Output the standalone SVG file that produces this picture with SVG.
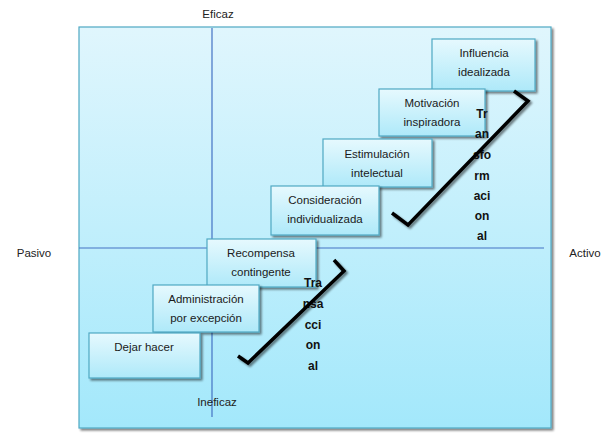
<svg xmlns="http://www.w3.org/2000/svg" width="615" height="448" viewBox="0 0 615 448">
<defs>
<linearGradient id="bg" x1="0" y1="0" x2="0" y2="1">
<stop offset="0" stop-color="#e0f6fd"/>
<stop offset="1" stop-color="#a3e8fb"/>
</linearGradient>
<linearGradient id="bx" x1="0" y1="0" x2="0" y2="1">
<stop offset="0" stop-color="#e6f9fe"/>
<stop offset="1" stop-color="#aee9f9"/>
</linearGradient>
<filter id="sh" x="-10%" y="-10%" width="130%" height="130%">
<feGaussianBlur in="SourceAlpha" stdDeviation="0.8"/>
<feOffset dx="1.5" dy="2" result="o"/>
<feComponentTransfer><feFuncA type="linear" slope="0.5"/></feComponentTransfer>
<feMerge><feMergeNode/><feMergeNode in="SourceGraphic"/></feMerge>
</filter>
</defs>
<style>
.lbl{font-family:"Liberation Sans",Arial,sans-serif;font-size:11.5px;fill:#222;text-anchor:middle}
.box{fill:url(#bx);stroke:#4fa9c4;stroke-width:1.2}
.bt{font-family:"Liberation Sans",Arial,sans-serif;font-size:11.5px;fill:#1a1a1a;text-anchor:middle}
.vt{font-family:"Liberation Sans",Arial,sans-serif;font-size:12px;font-weight:bold;fill:#111;text-anchor:middle}
.axis{stroke:#4472c4;stroke-width:1.2}
.chk{fill:none;stroke:#000;stroke-width:3.5;stroke-linejoin:miter;stroke-linecap:butt}
</style>
<g id="frame">
<rect x="79" y="27" width="472" height="401" fill="url(#bg)" stroke="#4fa9c4" stroke-width="1.2" filter="url(#sh)"/>
</g>
<g id="axes">
<line class="axis" x1="79" y1="248" x2="544" y2="248"/>
<line class="axis" x1="212" y1="28" x2="212" y2="417"/>
</g>
<g id="labels">
<text class="lbl" x="218" y="18">Eficaz</text>
<text class="lbl" x="217" y="406">Ineficaz</text>
<text class="lbl" x="34" y="257">Pasivo</text>
<text class="lbl" x="585" y="257">Activo</text>
</g>
<g id="n-influencia">
<rect class="box" x="432" y="39" width="103" height="52" filter="url(#sh)"/>
<text class="bt" x="484" y="57">Influencia</text>
<text class="bt" x="484" y="76">idealizada</text>
</g>
<g id="n-motivacion">
<rect class="box" x="379" y="89" width="106" height="47" filter="url(#sh)"/>
<text class="bt" x="432" y="107">Motivación</text>
<text class="bt" x="432" y="126">inspiradora</text>
</g>
<g id="n-estimulacion">
<rect class="box" x="323" y="139" width="109" height="48" filter="url(#sh)"/>
<text class="bt" x="377" y="158">Estimulación</text>
<text class="bt" x="377" y="177">intelectual</text>
</g>
<g id="n-consideracion">
<rect class="box" x="271" y="186" width="108" height="49" filter="url(#sh)"/>
<text class="bt" x="325" y="204">Consideración</text>
<text class="bt" x="325" y="223">individualizada</text>
</g>
<g id="n-recompensa">
<rect class="box" x="207" y="239" width="109" height="48" filter="url(#sh)"/>
<text class="bt" x="261" y="257">Recompensa</text>
<text class="bt" x="261" y="276">contingente</text>
</g>
<g id="n-administracion">
<rect class="box" x="153" y="285" width="106" height="47" filter="url(#sh)"/>
<text class="bt" x="206" y="303">Administración</text>
<text class="bt" x="206" y="322">por excepción</text>
</g>
<g id="n-dejar">
<rect class="box" x="89" y="333" width="111" height="45" filter="url(#sh)"/>
<text class="bt" x="144" y="351">Dejar hacer</text>
</g>
<g id="n-transformacional">
<text class="vt" x="482" y="118">Tr</text>
<text class="vt" x="482" y="138">an</text>
<text class="vt" x="482" y="159">sfo</text>
<text class="vt" x="482" y="180">rm</text>
<text class="vt" x="482" y="200">aci</text>
<text class="vt" x="482" y="220">on</text>
<text class="vt" x="482" y="240">al</text>
</g>
<g id="n-transaccional">
<text class="vt" x="313" y="287">Tra</text>
<text class="vt" x="313" y="308">nsa</text>
<text class="vt" x="313" y="329">cci</text>
<text class="vt" x="313" y="349">on</text>
<text class="vt" x="313" y="370">al</text>
</g>
<g id="connectors">
<polyline class="chk" points="392,213 408,225 528,101 514,91" filter="url(#sh)"/>
<polyline class="chk" points="238,356 248,363 344,271 334,260" filter="url(#sh)"/>
</g>
</svg>
